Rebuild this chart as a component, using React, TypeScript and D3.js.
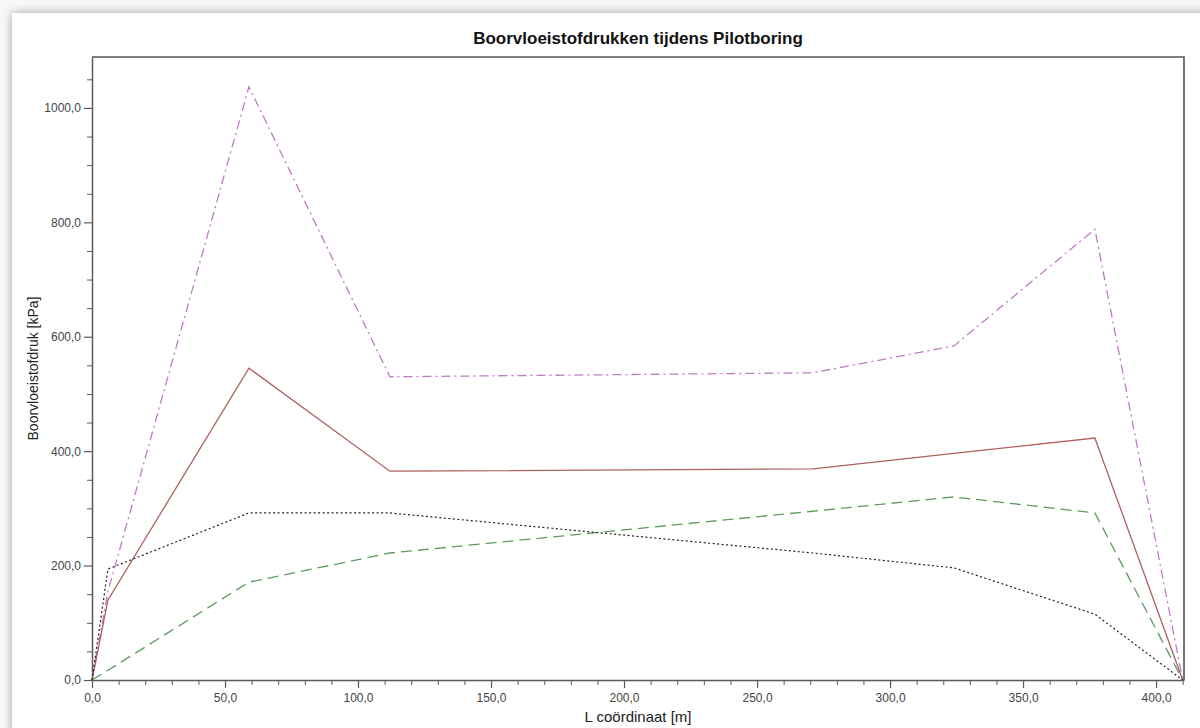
import * as d3 from 'd3';
import React, { useEffect, useRef } from 'react';

// L coordinates [m] shared by all series
const xValues = [0, 6, 59, 112, 271, 324, 377, 410];

// pressures [kPa]
const maxPressure = [0, 155, 1037, 530, 537, 584, 788, 0];
const actualPressure = [0, 140, 545, 365, 369, 396, 423, 0];
const minPressure = [0, 17, 171, 222, 295, 320, 292, 0];
const soilPressure = [0, 194, 292, 292, 222, 196, 115, 0];

const xTicks = [0, 50, 100, 150, 200, 250, 300, 350, 400];
const yTicks = [0, 200, 400, 600, 800, 1000];

const fmt = (v: number) => v.toFixed(1).replace('.', ',');

const Chart: React.FC = () => {
  const ref = useRef<SVGSVGElement>(null);

  useEffect(() => {
    if (!ref.current) return;
    const root = d3.select(ref.current);
    root.selectAll('*').remove();

    const W = 1200, H = 728;
    root.attr('width', W).attr('height', H);

    // panel with soft shadow
    const defs = root.append('defs');
    const f = defs.append('filter').attr('id', 'shadow').attr('x', '-5%').attr('y', '-5%').attr('width', '110%').attr('height', '110%');
    f.append('feGaussianBlur').attr('in', 'SourceAlpha').attr('stdDeviation', 5);
    f.append('feOffset').attr('dx', 0).attr('dy', 0).attr('result', 'b');
    f.append('feComponentTransfer').append('feFuncA').attr('type', 'linear').attr('slope', 0.35);
    const m = f.append('feMerge');
    m.append('feMergeNode');
    m.append('feMergeNode').attr('in', 'SourceGraphic');

    root.append('rect').attr('width', W).attr('height', H).attr('fill', '#f7f7f7');
    root.append('rect').attr('x', 12).attr('y', 13).attr('width', W + 20).attr('height', H + 20)
      .attr('fill', '#fff').attr('filter', 'url(#shadow)');

    const margin = { top: 57, right: 16, bottom: 48, left: 92 };
    const width = W - margin.left - margin.right;
    const height = H - margin.top - margin.bottom;

    const g = root.append('g').attr('transform', `translate(${margin.left},${margin.top})`);

    const x = d3.scaleLinear().domain([0, 410.5]).range([0, width]);
    const y = d3.scaleLinear().domain([0, 1089]).range([height, 0]);

    const axisColor = '#5a5a5a';
    const font = 'Arial, "Liberation Sans", sans-serif';

    // minor ticks
    const xMinor = d3.range(0, 411, 10).filter(v => v % 50 !== 0);
    const yMinor = d3.range(0, 1089, 50).filter(v => v % 200 !== 0);

    g.append('g').attr('transform', `translate(0,${height})`)
      .call(d3.axisBottom(x).tickValues(xMinor).tickSize(5).tickFormat(() => ''))
      .call(s => s.select('.domain').remove())
      .selectAll('line').attr('stroke', axisColor);
    g.append('g')
      .call(d3.axisLeft(y).tickValues(yMinor).tickSize(5).tickFormat(() => ''))
      .call(s => s.select('.domain').remove())
      .selectAll('line').attr('stroke', axisColor);

    // major axes
    const xa = g.append('g').attr('transform', `translate(0,${height})`)
      .call(d3.axisBottom(x).tickValues(xTicks).tickSize(8).tickSizeOuter(0).tickPadding(5).tickFormat(d => fmt(d as number)));
    xa.select('.domain').attr('stroke', axisColor).attr('stroke-width', 1.5);
    xa.selectAll('line').attr('stroke', axisColor).attr('stroke-width', 1.2);
    xa.selectAll('text').style('font', `12px ${font}`).attr('fill', '#444');

    const ya = g.append('g')
      .call(d3.axisLeft(y).tickValues(yTicks).tickSize(8).tickSizeOuter(0).tickPadding(3).tickFormat(d => fmt(d as number)));
    ya.select('.domain').attr('stroke', axisColor).attr('stroke-width', 1.5);
    ya.selectAll('line').attr('stroke', axisColor).attr('stroke-width', 1.2);
    ya.selectAll('text').style('font', `12px ${font}`).attr('fill', '#444');

    // frame top and right
    g.append('path')
      .attr('d', `M0,0H${width}V${height}`)
      .attr('fill', 'none').attr('stroke', '#555').attr('stroke-width', 1.6);

    const series = [
      { values: maxPressure, color: '#c07ac8', dash: '9,4,2,4', w: 1.3 },
      { values: actualPressure, color: '#b0605e', dash: null, w: 1.3 },
      { values: minPressure, color: '#5e9a5e', dash: '11,6', w: 1.3 },
      { values: soilPressure, color: '#222', dash: '2,2.5', w: 1.2 },
    ];

    const line = d3.line<[number, number]>().x(d => x(d[0])).y(d => y(d[1]));
    series.forEach(s => {
      const pts = xValues.map((v, i) => [v, s.values[i]] as [number, number]);
      g.append('path')
        .attr('d', line(pts))
        .attr('fill', 'none')
        .attr('stroke', s.color)
        .attr('stroke-width', s.w)
        .attr('stroke-dasharray', s.dash);
    });

    // titles
    root.append('text').attr('x', margin.left + width / 2).attr('y', 44)
      .attr('text-anchor', 'middle').style('font', `bold 17px ${font}`).attr('fill', '#111')
      .text('Boorvloeistofdrukken tijdens Pilotboring');
    root.append('text').attr('x', margin.left + width / 2).attr('y', 722)
      .attr('text-anchor', 'middle').style('font', `15px ${font}`).attr('fill', '#222')
      .text('L coördinaat [m]');
    root.append('text')
      .attr('transform', `translate(38,${margin.top + height / 2}) rotate(-90)`)
      .attr('text-anchor', 'middle').style('font', `14px ${font}`).attr('fill', '#222')
      .text('Boorvloeistofdruk [kPa]');
  }, []);

  return <svg ref={ref} style={{ position: 'absolute', left: 0, top: 0, display: 'block' }}></svg>;
};

export default function App() {
  return <Chart />;
}
